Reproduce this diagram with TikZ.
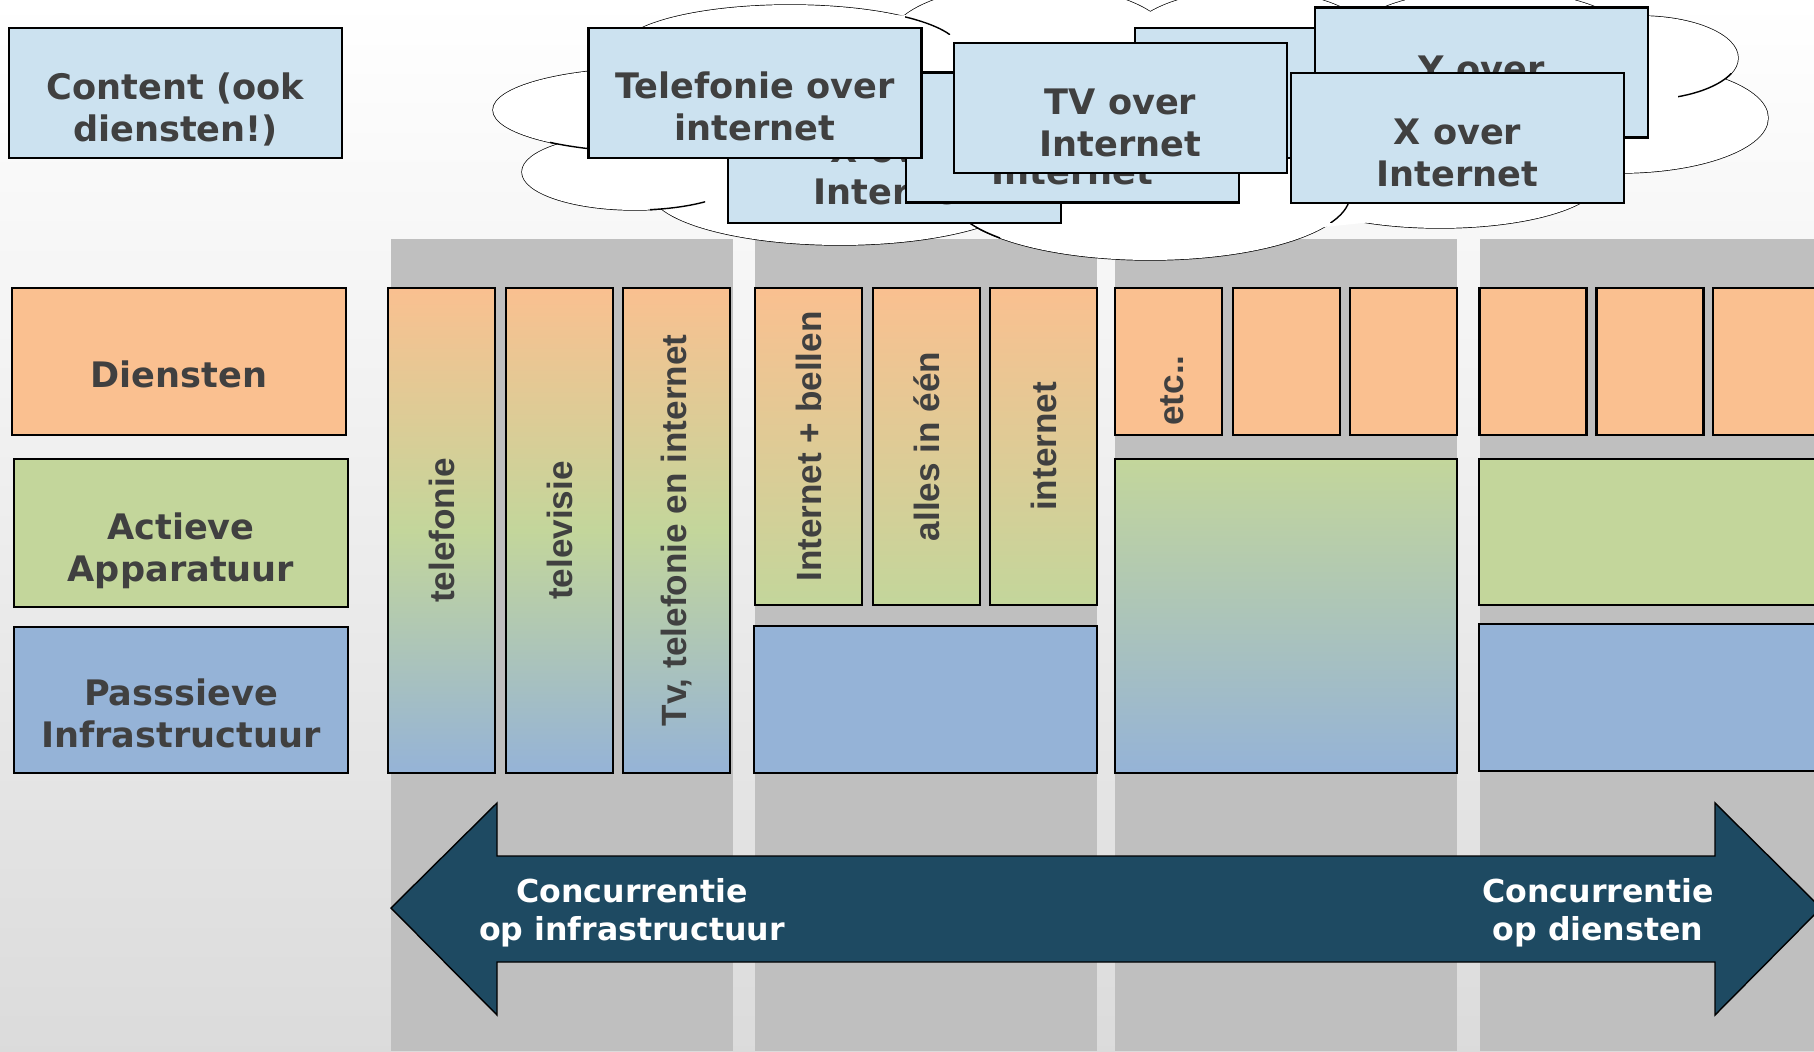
\documentclass[tikz,border=0pt]{standalone}
\usepackage{fontspec}
\setmainfont{DejaVu Sans}
\newfontfamily\vfont{Liberation Sans}

\definecolor{oranje}{RGB}{250,192,144}
\definecolor{groen}{RGB}{195,214,155}
\definecolor{blauw}{RGB}{149,179,215}
\definecolor{lichtblauw}{RGB}{204,226,240}
\definecolor{grijs}{RGB}{191,191,191}
\definecolor{donkerblauw}{RGB}{30,74,98}
\definecolor{tekst}{RGB}{64,64,64}

% ellipsen van de wolk: x/y/rx/ry
\def\wolk{650/110/3.14/0.84, 635/172/2.26/0.76, 840/190/3.8/1.1, 1150/195/4.0/1.3,
  1440/180/3.2/0.96, 1620/118/2.96/1.1, 1640/58/1.96/0.84, 790/50/3.4/0.9,
  1030/40/2.8/1.1, 1250/45/2.5/1.1, 1490/40/2.8/1.0}

\begin{document}
\begin{tikzpicture}
  [x=0.02cm,y=-0.02cm,
   every node/.style={inner sep=0pt},
   tbox/.style={draw=black,line width=1.6pt,minimum width=6.66cm,minimum height=2.6cm},
   lbl/.style={draw=black,line width=1.6pt,minimum width=6.68cm,minimum height=2.94cm},
   col/.style={draw=black,line width=1.6pt,minimum width=2.14cm},
   txt/.style={text=tekst,font=\bfseries\fontsize{20}{24}\selectfont,align=center,yshift=-0.26cm},
   vtxt/.style={text=tekst,font=\vfont\bfseries\fontsize{20}{24}\selectfont,rotate=90},
   wit/.style={text=white,font=\bfseries\fontsize{18}{21.5}\selectfont,align=center},
   wolklijn/.style={line width=0.8pt}]
  \useasboundingbox (0,0) rectangle (1814,1051);
  \shade[top color=white,bottom color=black!14] (0,0) rectangle (1814,1051);

  % grijze banen
  \foreach \a/\b in {391/733,755/1097,1115/1457,1480/1814}
    \fill[grijs] (\a,239) rectangle (\b,1051);

  % lagen links
  \node (content) [tbox,fill=lichtblauw] at (175.5,93) {};
  \node (contentT) [txt,yshift=-0.07cm] at (content) {Content (ook\\diensten!)};
  \node (diensten) [lbl,fill=oranje] at (179,361.5) {};
  \node (dienstenT) [txt] at (diensten) {Diensten};
  \node (actief) [lbl,fill=groen,minimum height=2.96cm] at (181,533) {};
  \node (actiefT) [txt,yshift=-0.1cm] at (actief) {Actieve\\Apparatuur};
  \node (passief) [lbl,fill=blauw,minimum height=2.92cm] at (181,700) {};
  \node (passiefT) [txt] at (passief) {Passsieve\\Infrastructuur};

  % kolom 1
  \foreach \i/\x/\t in {1/441.5/telefonie,2/559.5/televisie,3/676.5/{Tv, telefonie en internet}}{
    \node (k\i) [col,minimum height=9.7cm,top color=oranje,bottom color=blauw,middle color=groen] at (\x,530.5) {};
    \node (kT\i) [vtxt] at (k\i) {\t};
  }
  % kolom 2
  \foreach \i/\x/\t in {4/808.5/Internet + bellen,5/926.5/alles in één,6/1043.5/internet}{
    \node (k\i) [col,minimum height=6.34cm,top color=oranje,bottom color=groen] at (\x,446.5) {};
    \node (kT\i) [vtxt] at (k\i) {\t};
  }
  \node (k2blauw) [col,fill=blauw,minimum width=6.86cm,minimum height=2.94cm] at (925.5,699.5) {};
  % kolom 3
  \foreach \i/\x in {7/1168.5,8/1286.5,9/1403.5}
    \node (k\i) [col,fill=oranje,minimum height=2.94cm] at (\x,361.5) {};
  \node (etc) [vtxt,anchor=west] at (1172,426) {etc..};
  \node (k3groen) [col,minimum width=6.84cm,minimum height=6.28cm,top color=groen,bottom color=blauw] at (1286,616) {};
  % kolom 4
  \foreach \i/\x in {10/1533,11/1650,12/1766.5}
    \node (k\i) [col,fill=oranje,minimum height=2.94cm] at (\x,361.5) {};
  \node (k4groen) [col,fill=groen,minimum width=7cm,minimum height=2.92cm] at (1654,532) {};
  \node (k4blauw) [col,fill=blauw,minimum width=7cm,minimum height=2.94cm] at (1654,697.5) {};

  % wolk
  \foreach \cx/\cy/\rx/\ry in \wolk
    \draw[wolklijn] (\cx,\cy) ellipse [x radius=\rx cm,y radius=\ry cm];
  \foreach \cx/\cy/\rx/\ry in \wolk
    \fill[white] (\cx,\cy) ellipse [x radius=\rx cm,y radius=\ry cm];
  \fill[white] (560,112) -- (640,75) -- (790,20) -- (1030,10) -- (1145,30) -- (1260,15)
    -- (1375,30) -- (1490,10) -- (1640,40) -- (1700,110) -- (1620,160) -- (1440,215)
    -- (1150,245) -- (995,220) -- (840,230) -- (635,195) -- cycle;
  \foreach \ax/\ay/\bx/\by/\cx/\cy/\rx/\ry in {550/135/600/156/650/110/3.14/0.84,
      650/195/705/215/635/172/2.26/0.76, 955/205/1000/240/1150/195/4.0/1.3,
      1330/200/1356/222/1150/195/4.0/1.3, 1678/74/1732/102/1640/58/1.96/0.84,
      905/10/950/35/790/50/3.4/0.9}{
    \begin{scope}
      \clip (\ax,\ay) rectangle (\bx,\by);
      \draw[wolklijn] (\cx,\cy) ellipse [x radius=\rx cm,y radius=\ry cm];
    \end{scope}
  }

  % diensten over internet
  \node (xa) [tbox,fill=lichtblauw] at (894.5,158) {};
  \node (xaT) [txt] at (xa) {X over\\Internet};
  \node (xb) [tbox,fill=lichtblauw] at (1072.5,137.5) {};
  \node (xbT) [txt] at (xb) {X over\\Internet};
  \node (xc) [tbox,fill=lichtblauw] at (1301.5,93) {};
  \node (tel) [tbox,fill=lichtblauw] at (755,93) {};
  \node (telT) [txt] at (tel) {Telefonie over\\internet};
  \node (tv) [tbox,fill=lichtblauw] at (1120.5,108) {};
  \node (tvT) [txt,yshift=-0.04cm] at (tv) {TV over\\Internet};
  \node (yover) [tbox,fill=lichtblauw] at (1481.5,72.5) {};
  \node (yoverT) [txt,yshift=-0.1cm] at (yover) {Y over\\Internet};
  \node (xover) [tbox,fill=lichtblauw] at (1457.5,138) {};
  \node (xoverT) [txt,yshift=-0.04cm] at (xover) {X over\\Internet};

  % pijl
  \draw[fill=donkerblauw,line width=0.8pt] (391,908) -- (497,803) -- (497,856) -- (1715,856)
    -- (1715,803) -- (1821,908) -- (1715,1015) -- (1715,962) -- (497,962) -- (497,1015) -- cycle;
  \node (links) [wit] at (632,912.5) {Concurrentie\\op infrastructuur};
  \node (rechts) [wit] at (1598,912.5) {Concurrentie\\op diensten};
\end{tikzpicture}
\end{document}
